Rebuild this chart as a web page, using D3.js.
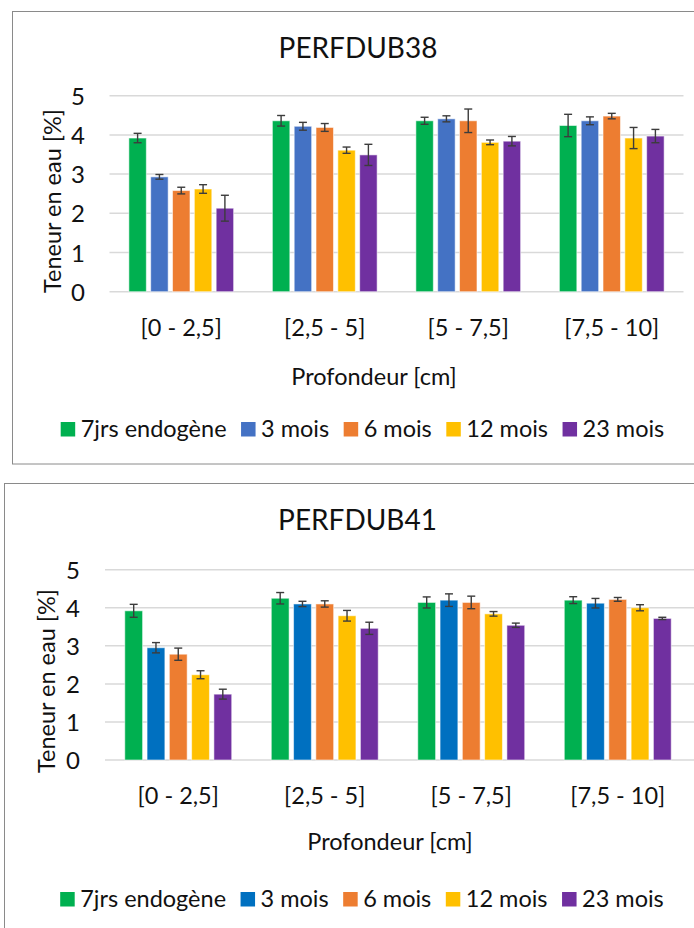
<!DOCTYPE html>
<html>
<head>
<meta charset="utf-8">
<script src="https://cdn.jsdelivr.net/npm/d3@7"></script>
<style>
  body { margin: 0; background: #fff; }
  svg { display: block; }
  text { font-family: Lato, "Open Sans", sans-serif; fill: #111; }
</style>
</head>
<body>
<svg id="canvas" width="694" height="928"></svg>
<script>
// categories / series
const categories = ["[0 - 2,5]", "[2,5 - 5]", "[5 - 7,5]", "[7,5 - 10]"];
const seriesNames = ["7jrs endogène", "3 mois", "6 mois", "12 mois", "23 mois"];
const yTicks = [0, 1, 2, 3, 4, 5];

// PERFDUB38 : one row per series, one value per depth class
const perf38Values = [
  [3.92, 4.36, 4.36, 4.24],
  [2.93, 4.22, 4.41, 4.36],
  [2.58, 4.19, 4.36, 4.48],
  [2.62, 3.61, 3.81, 3.92],
  [2.13, 3.49, 3.84, 3.97]
];
const perf38Errors = [
  [0.12, 0.135, 0.09, 0.285],
  [0.06, 0.10, 0.077, 0.10],
  [0.085, 0.10, 0.30, 0.07],
  [0.11, 0.08, 0.06, 0.27],
  [0.33, 0.27, 0.12, 0.17]
];

// PERFDUB41
const perf41Values = [
  [3.92, 4.25, 4.14, 4.20],
  [2.95, 4.10, 4.20, 4.12],
  [2.78, 4.10, 4.14, 4.22],
  [2.24, 3.79, 3.84, 4.00],
  [1.73, 3.46, 3.54, 3.72]
];
const perf41Errors = [
  [0.17, 0.15, 0.145, 0.09],
  [0.135, 0.07, 0.165, 0.125],
  [0.16, 0.083, 0.165, 0.05],
  [0.105, 0.14, 0.06, 0.08],
  [0.13, 0.16, 0.057, 0.03]
];

const colors38 = ["#00B050", "#4472C4", "#ED7D31", "#FFC000", "#7030A0"];
const colors41 = ["#00B050", "#0070C0", "#ED7D31", "#FFC000", "#7030A0"];

const svg = d3.select("#canvas");

function drawChart(cfg) {
  const g = svg.append("g");

  // outer frame
  g.append("rect")
   .attr("x", cfg.frame[0]).attr("y", cfg.frame[1])
   .attr("width", cfg.frame[2]).attr("height", cfg.frame[3])
   .attr("fill", "none").attr("stroke", "#8a8a8a").attr("stroke-width", 1);

  const x0 = d3.scaleBand()
               .domain(categories)
               .range([cfg.left, cfg.right])
               .paddingInner(0.27)
               .paddingOuter(0.135);
  const x1 = d3.scaleBand()
               .domain(seriesNames)
               .range([0, x0.bandwidth()])
               .paddingInner(0.2);
  const y = d3.scaleLinear().domain([0, 5]).range([cfg.bottom, cfg.top]);

  // grid
  g.selectAll("line.grid")
   .data(yTicks)
   .enter().append("line")
   .attr("class", "grid")
   .attr("x1", cfg.left).attr("x2", cfg.gridEnd)
   .attr("y1", d => y(d)).attr("y2", d => y(d))
   .attr("stroke", "#d9d9d9").attr("stroke-width", 1.5);

  // y tick labels via axis
  const yAxis = d3.axisLeft(y).tickValues(yTicks).tickFormat(d3.format("d"))
                  .tickSize(0).tickPadding(0);
  const ya = g.append("g")
              .attr("transform", `translate(${cfg.tickRight},0)`)
              .call(yAxis);
  ya.select(".domain").remove();
  ya.selectAll("text").attr("font-size", cfg.tickSize).attr("dy", "0.36em")
    .style("font-family", "Lato, sans-serif").attr("fill", "#111");

  // x category labels via axis
  const xAxis = d3.axisBottom(x0).tickSize(0).tickPadding(0);
  const xa = g.append("g")
              .attr("transform", `translate(0,${cfg.catBaseline})`)
              .call(xAxis);
  xa.select(".domain").remove();
  xa.selectAll("text").attr("font-size", cfg.labelSize).attr("dy", 0).attr("y", 0)
    .style("font-family", "Lato, sans-serif").attr("fill", "#111");

  // bars
  const groups = g.selectAll("g.series")
                  .data(cfg.values)
                  .enter().append("g")
                  .attr("class", "series");

  groups.each(function(vals, si) {
    const sg = d3.select(this);
    const name = seriesNames[si];
    sg.selectAll("rect")
      .data(vals)
      .enter().append("rect")
      .attr("x", (d, ci) => x0(categories[ci]) + x1(name))
      .attr("y", d => y(d))
      .attr("width", x1.bandwidth())
      .attr("height", d => y(0) - y(d))
      .attr("fill", cfg.colors[si])
      .attr("stroke", "#ffffff").attr("stroke-opacity", 0.55).attr("stroke-width", 1);

    const errs = cfg.errors[si];
    vals.forEach((v, ci) => {
      const cx = x0(categories[ci]) + x1(name) + x1.bandwidth() / 2;
      const e = errs[ci];
      const col = "#3c3c3c";
      sg.append("line")
        .attr("x1", cx).attr("x2", cx)
        .attr("y1", y(v + e)).attr("y2", y(v - e))
        .attr("stroke", col).attr("stroke-width", 1.4);
      [v + e, v - e].forEach(t => {
        sg.append("line")
          .attr("x1", cx - 4).attr("x2", cx + 4)
          .attr("y1", y(t)).attr("y2", y(t))
          .attr("stroke", col).attr("stroke-width", 1.4);
      });
    });
  });

  // titles
  g.append("text")
   .attr("x", cfg.titlePos[0]).attr("y", cfg.titlePos[1])
   .attr("text-anchor", "middle").attr("font-size", cfg.titleSize)
   .text(cfg.title);

  g.append("text")
   .attr("transform", `translate(${cfg.yTitlePos[0]},${cfg.yTitlePos[1]}) rotate(-90)`)
   .attr("text-anchor", "middle").attr("font-size", cfg.labelSize)
   .text("Teneur en eau [%]");

  g.append("text")
   .attr("x", cfg.xTitlePos[0]).attr("y", cfg.xTitlePos[1])
   .attr("text-anchor", "middle").attr("font-size", cfg.labelSize)
   .text("Profondeur [cm]");

  // legend
  const leg = g.append("g");
  let cursor = 0;
  seriesNames.forEach((name, i) => {
    leg.append("rect")
       .attr("x", cursor).attr("y", -15)
       .attr("width", 14.5).attr("height", 14.5)
       .attr("fill", cfg.colors[i]);
    const t = leg.append("text")
                 .attr("x", cursor + 20).attr("y", 0)
                 .attr("font-size", cfg.labelSize)
                 .text(name);
    cursor += 20 + t.node().getComputedTextLength() + 14.5;
  });
  const legWidth = cursor - 14.5;
  leg.attr("transform", `translate(${cfg.legend[0] - legWidth / 2},${cfg.legend[1]})`);
}

drawChart({
  title: "PERFDUB38",
  values: perf38Values, errors: perf38Errors, colors: colors38,
  frame: [12.5, 11.5, 700, 452.5],
  left: 109.5, right: 683.5, gridEnd: 683.5, top: 95.7, bottom: 291.7,
  tickRight: 85, catBaseline: 336,
  titlePos: [358, 57.5], yTitlePos: [61, 201], xTitlePos: [374, 385],
  legend: [362.5, 437],
  titleSize: 28, tickSize: 24, labelSize: 23.5
});

drawChart({
  title: "PERFDUB41",
  values: perf41Values, errors: perf41Errors, colors: colors41,
  frame: [4.5, 483.5, 700, 460],
  left: 105, right: 691, gridEnd: 694, top: 569.7, bottom: 760,
  tickRight: 80, catBaseline: 804,
  titlePos: [357.5, 530], yTitlePos: [55, 681], xTitlePos: [390, 850],
  legend: [362, 907],
  titleSize: 28, tickSize: 24, labelSize: 23.5
});
</script>
</body>
</html>
